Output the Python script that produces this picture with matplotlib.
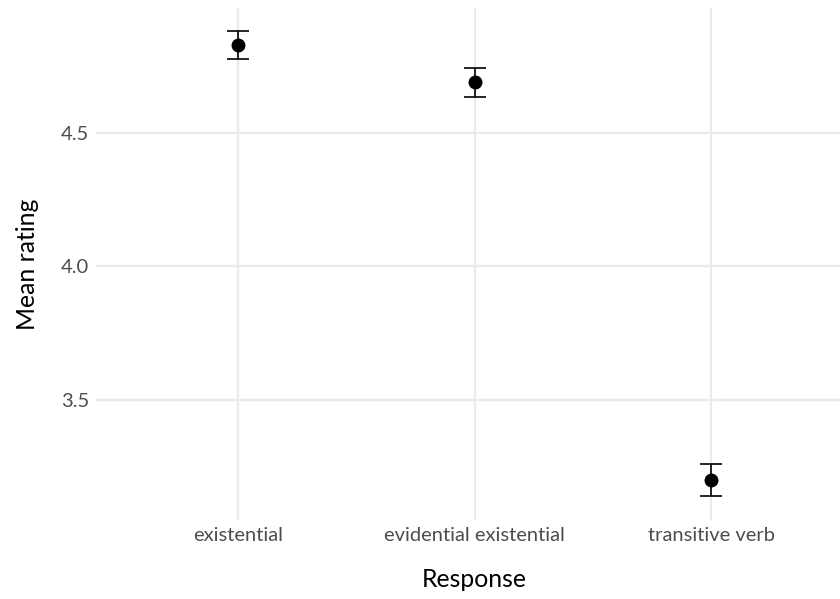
import matplotlib
matplotlib.use("Agg")
import matplotlib.pyplot as plt
import numpy as np

# data
responses = ["existential", "evidential existential", "transitive verb"]
mean_rating = [4.83, 4.69, 3.20]
ci_low = [4.777, 4.635, 3.139]
ci_high = [4.883, 4.743, 3.258]

plt.rcParams["font.family"] = ["Lato", "DejaVu Sans"]

fig = plt.figure(figsize=(8.4, 5.99), dpi=100)
ax = fig.add_axes([96 / 840, 79 / 599, 744 / 840, 512 / 599])

x = np.arange(1, len(responses) + 1)
means = np.array(mean_rating)
yerr = [means - np.array(ci_low), np.array(ci_high) - means]

ax.errorbar(x, means, yerr=yerr, fmt="o", color="black", markersize=9,
            capsize=8, elinewidth=1.2, capthick=1.2, zorder=3)

ax.set_xlim(0.4, 3.545)
ax.set_ylim(3.049, 4.968)
ax.set_xticks(x)
ax.set_xticklabels(responses)
ax.set_yticks([3.5, 4.0, 4.5])
ax.set_yticklabels(["3.5", "4.0", "4.5"])

# minimal theme
for s in ax.spines.values():
    s.set_visible(False)
ax.grid(True, color="#EBEBEB", linewidth=1.6)
ax.set_axisbelow(True)
ax.tick_params(length=0, labelsize=14.5, labelcolor="#4D4D4D", pad=5)

ax.set_xlabel("Response", fontsize=17.8)
ax.set_ylabel("Mean rating", fontsize=17.8, labelpad=16)
# the panel runs a bit past the right edge in the original, so centre the title on that
ax.xaxis.set_label_coords(0.509, -0.093)

fig.savefig("out.png", dpi=100)
